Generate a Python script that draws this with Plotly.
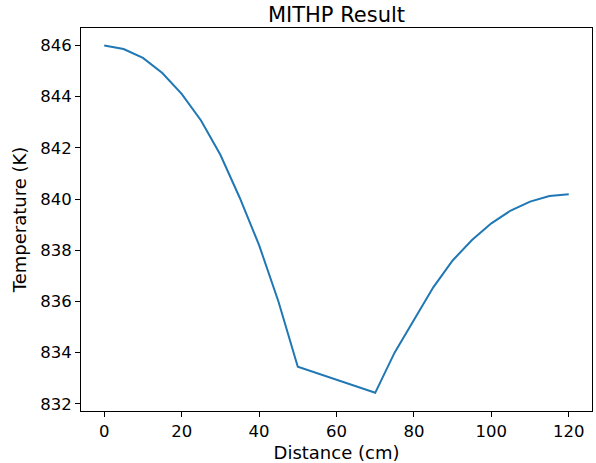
import plotly.graph_objects as go

distance = [0, 5, 10, 15, 20, 25, 30, 35, 40, 45, 50, 70, 75, 80, 85, 90, 95, 100, 105, 110, 115, 120]
temperature = [846.0, 845.86, 845.51, 844.92, 844.11, 843.07, 841.73, 840.05, 838.2, 836.0, 833.45,
               832.43, 834.0, 835.3, 836.55, 837.6, 838.4, 839.05, 839.55, 839.9, 840.12, 840.19]
x_ticks = [0, 20, 40, 60, 80, 100, 120]
y_ticks = [832, 834, 836, 838, 840, 842, 844, 846]

font_family = "DejaVu Sans"

fig = go.Figure()
fig.add_trace(go.Scatter(x=distance, y=temperature, mode="lines",
                         line=dict(color="#1f77b4", width=2)))

fig.update_layout(
    width=596, height=463,
    margin=dict(l=81, r=4, t=28, b=52, autoexpand=False),
    paper_bgcolor="white", plot_bgcolor="white",
    showlegend=False,
    font=dict(family=font_family, color="black"),
    title=dict(text="MITHP Result", x=0.5, xanchor="center", xref="paper",
               y=0.968, yanchor="middle", font=dict(size=21, family=font_family)),
)
fig.update_xaxes(
    range=[-6, 126], tickvals=x_ticks, ticks="outside", ticklen=5, tickcolor="black",
    showgrid=False, zeroline=False, showline=True, linecolor="black", linewidth=1, mirror=True,
    tickfont=dict(size=16.5), title=dict(text="Distance (cm)", font=dict(size=18), standoff=6),
)
fig.update_yaxes(
    range=[831.72, 846.68], tickvals=y_ticks, ticks="outside", ticklen=5, tickcolor="black",
    showgrid=False, zeroline=False, showline=True, linecolor="black", linewidth=1, mirror=True,
    tickfont=dict(size=16.5), title=dict(text="Temperature (K)", font=dict(size=18), standoff=8),
)
fig.write_html("out.html", config={"displayModeBar": False},
               post_script="document.body.style.margin='0';")
